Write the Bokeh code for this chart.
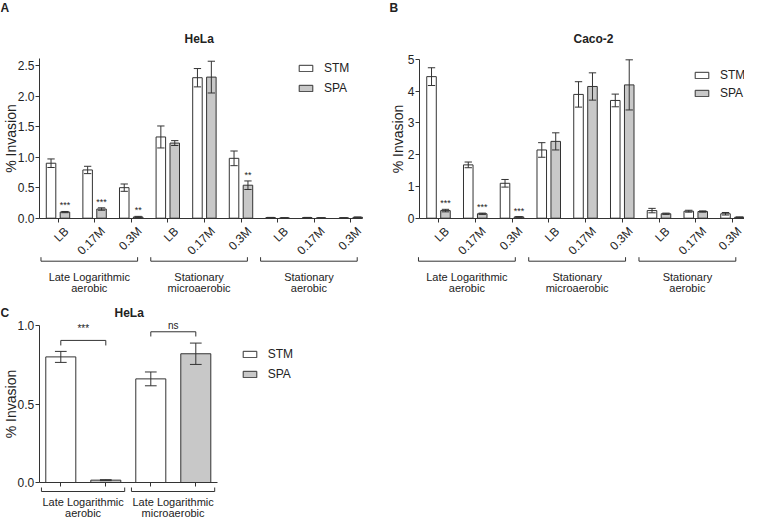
import math
from bokeh.plotting import figure
from bokeh.models import (FixedTicker, Legend, LegendItem, ColumnDataSource,
                          NumeralTickFormatter, LinearAxis)
from bokeh.layouts import column, row
from bokeh.embed import file_html
from bokeh.resources import INLINE
from bokeh.core.properties import value

FONT = "Liberation Sans"
TXT = "#222222"
LINE = "#333333"
SPA_FILL = "#c8c8c8"

# ---------------- data ----------------
media = ["LB", "0.17M", "0.3M"]
groups_ab = [["Late Logarithmic", "aerobic"],
             ["Stationary", "microaerobic"],
             ["Stationary", "aerobic"]]
strains = ["STM", "SPA"]

hela_stm = [0.90, 0.79, 0.50, 1.33, 2.30, 0.98, 0.010, 0.010, 0.005]
hela_stm_err = [0.07, 0.06, 0.06, 0.18, 0.15, 0.12, 0.003, 0.003, 0.002]
hela_spa = [0.10, 0.15, 0.02, 1.23, 2.31, 0.54, 0.005, 0.005, 0.015]
hela_spa_err = [0.01, 0.02, 0.01, 0.04, 0.26, 0.07, 0.002, 0.002, 0.005]
hela_sig = ["***", "***", "**", "", "", "**", "", "", ""]

caco_stm = [4.46, 1.68, 1.10, 2.15, 3.90, 3.71, 0.24, 0.22, 0.14]
caco_stm_err = [0.28, 0.09, 0.12, 0.23, 0.40, 0.20, 0.07, 0.03, 0.04]
caco_spa = [0.24, 0.14, 0.04, 2.42, 4.15, 4.20, 0.14, 0.21, 0.03]
caco_spa_err = [0.04, 0.02, 0.01, 0.27, 0.43, 0.79, 0.02, 0.02, 0.01]
caco_sig = ["***", "***", "***", "", "", "", "", "", ""]

c_groups = [["Late Logarithmic", "aerobic"],
            ["Late Logarithmic", "microaerobic"]]
c_stm = [0.80, 0.66]
c_stm_err = [0.035, 0.044]
c_spa = [0.015, 0.82]
c_spa_err = [0.003, 0.068]
c_sig = ["***", "ns"]


def style_axis(ax):
    ax.axis_line_color = LINE
    ax.major_tick_line_color = LINE
    ax.minor_tick_line_color = None
    ax.major_tick_in = 0
    ax.major_tick_out = 4
    ax.major_label_text_font = FONT
    ax.major_label_text_font_size = "12px"
    ax.major_label_text_color = TXT
    ax.axis_label_text_font = FONT
    ax.axis_label_text_font_size = "14px"
    ax.axis_label_text_font_style = "normal"
    ax.axis_label_text_color = TXT


class Panel:
    """Figure whose frame covers the whole canvas; axes are pinned with fixed_location."""

    def __init__(self, W, H, ox, sx, oy, sy):
        self.W, self.H, self.ox, self.sx, self.oy, self.sy = W, H, ox, sx, oy, sy
        self.p = figure(width=W, height=H,
                        x_range=(-ox / sx, (W - ox) / sx),
                        y_range=(-(H - oy) / sy, oy / sy),
                        output_backend="svg", toolbar_location=None, title=None,
                        min_border=0, background_fill_color="white",
                        border_fill_color="white")
        p = self.p
        p.grid.visible = False
        p.outline_line_color = None
        style_axis(p.xaxis[0])
        style_axis(p.yaxis[0])
        p.yaxis.major_label_standoff = 1
        p.yaxis.axis_label = "% Invasion"

    def x(self, px):
        return (px - self.ox) / self.sx

    def y(self, py):
        return (self.oy - py) / self.sy

    def dy(self, d):
        return d / self.sy

    def texts(self, xs, ys, ts, size="11px", style="normal", align="center",
              baseline="middle", y_offset=0):
        src = ColumnDataSource(dict(x=xs, y=ys, t=ts))
        self.p.text(x="x", y="y", text="t", source=src, text_font=value(FONT),
                    text_font_size=size, text_font_style=style, text_color=TXT,
                    text_align=align, text_baseline=baseline, y_offset=y_offset)

    def brackets(self, starts, ends, y_line, y_tip):
        xs = [[a, a, b, b] for a, b in zip(starts, ends)]
        ys = [[y_tip, y_line, y_line, y_tip] for _ in starts]
        self.p.multi_line(xs=xs, ys=ys, line_color=LINE, line_width=1)

    def errs(self, xs, tops, errs, cap):
        src = ColumnDataSource(dict(
            x=xs, lo=[t - e for t, e in zip(tops, errs)],
            hi=[t + e for t, e in zip(tops, errs)],
            x0=[v - cap for v in xs], x1=[v + cap for v in xs]))
        p = self.p
        p.segment(x0="x", y0="lo", x1="x", y1="hi", source=src, line_color=LINE, line_width=1)
        p.segment(x0="x0", y0="hi", x1="x1", y1="hi", source=src, line_color=LINE, line_width=1)
        p.segment(x0="x0", y0="lo", x1="x1", y1="lo", source=src, line_color=LINE, line_width=1)

    def legend(self, r1, r2, loc, spacing):
        leg = Legend(items=[LegendItem(label=strains[0], renderers=[r1]),
                            LegendItem(label=strains[1], renderers=[r2])],
                     location=loc, margin=0, padding=0, spacing=spacing,
                     glyph_width=17, glyph_height=8, label_height=8, label_standoff=10,
                     label_text_font=FONT, label_text_font_size="12px",
                     label_text_color=TXT, border_line_color=None,
                     background_fill_alpha=0)
        self.p.add_layout(leg)


def make_ab(letter, letter_px, title, title_px, stm, stm_err, spa, spa_err, sig,
            ox, sx, sy, ymax, yticks, yfmt, yaxis_px, xaxis_end, br_start, br_end,
            ylab_standoff, leg_loc, leg_spacing):
    P = Panel(372, 300, ox, sx, 217.7, sy)
    p = P.p
    xs = list(range(len(stm)))
    dx = 0.19
    stm_x = [v - dx for v in xs]
    spa_x = [v + dx for v in xs]
    r1 = p.vbar(x=stm_x, top=stm, width=0.26, fill_color="white", line_color=LINE, line_width=1)
    r2 = p.vbar(x=spa_x, top=spa, width=0.26, fill_color=SPA_FILL, line_color=LINE, line_width=1)
    P.errs(stm_x, stm, stm_err, 0.1)
    P.errs(spa_x, spa, spa_err, 0.1)
    P.texts(spa_x, [t + e for t, e in zip(spa, spa_err)], sig, size="9px",
            baseline="bottom", y_offset=-1)

    x_left = P.x(yaxis_px)
    # axis line and ticks
    p.xaxis.fixed_location = 0
    p.xaxis.bounds = (x_left, xaxis_end)
    p.xaxis.ticker = FixedTicker(ticks=xs)
    p.xaxis.major_label_text_color = None
    # tick labels (rotated), nudged so each label ends under its tick
    shift = 8.5 / sx
    lab_ticks = [v + shift for v in xs]
    lab_axis = LinearAxis(fixed_location=0, ticker=FixedTicker(ticks=lab_ticks),
                          major_label_overrides={t: media[i % 3] for i, t in enumerate(lab_ticks)},
                          major_label_orientation=math.pi / 4, major_label_standoff=7)
    style_axis(lab_axis)
    lab_axis.axis_line_color = None
    lab_axis.major_tick_line_color = None
    p.add_layout(lab_axis, "below")

    p.yaxis.fixed_location = x_left
    p.yaxis.bounds = (0, ymax)
    p.yaxis.ticker = FixedTicker(ticks=yticks)
    p.yaxis.formatter = NumeralTickFormatter(format=yfmt)
    p.yaxis.axis_label_standoff = ylab_standoff

    starts = [3 * g + br_start for g in range(len(groups_ab))]
    ends = [3 * g + br_end for g in range(len(groups_ab))]
    P.brackets(starts, ends, P.dy(-43), P.dy(-39))
    mids = [(a + b) / 2 for a, b in zip(starts, ends)]
    P.texts(mids, [P.dy(-58.5)] * len(mids), [g[0] for g in groups_ab])
    P.texts(mids, [P.dy(-70)] * len(mids), [g[1] for g in groups_ab])

    P.texts([P.x(title_px[0])], [P.y(title_px[1])], [title], size="12px", style="bold")
    P.texts([P.x(letter_px[0])], [P.y(letter_px[1])], [letter], size="12px", style="bold",
            align="left")
    P.legend(r1, r2, leg_loc, leg_spacing)
    return p


pA = make_ab("A", (0, 7), "HeLa", (198.7, 38),
             hela_stm, hela_stm_err, hela_spa, hela_spa_err, hela_sig,
             57.5, 36.6, 61.08, 2.61, [0, 0.5, 1.0, 1.5, 2.0, 2.5], "0.0",
             39, 8.32, -0.465, 2.175, -4, (297, 204.7), 6)
pB = make_ab("B", (17, 7), "Caco-2", (221, 38),
             caco_stm, caco_stm_err, caco_spa, caco_spa_err, caco_sig,
             66, 36.75, 31.74, 5.0, [0, 1, 2, 3, 4, 5], "0",
             47, 8.32, -0.545, 2.09, -1, (321, 200.3), 4)

# ---------------- panel C ----------------
PC = Panel(372, 219, 60.3, 45, 182, 157)
pC = PC.p
cx_stm = [2 * g for g in range(len(c_stm))]
cx_spa = [2 * g + 1 for g in range(len(c_spa))]
rc1 = pC.vbar(x=cx_stm, top=c_stm, width=0.667, fill_color="white", line_color=LINE, line_width=1)
rc2 = pC.vbar(x=cx_spa, top=c_spa, width=0.667, fill_color=SPA_FILL, line_color=LINE, line_width=1)
PC.errs(cx_stm, c_stm, c_stm_err, 0.13)
PC.errs(cx_spa, c_spa, c_spa_err, 0.13)
cx_left = PC.x(38.7)
pC.xaxis.fixed_location = 0
pC.xaxis.bounds = (cx_left, 3.48)
pC.xaxis.ticker = FixedTicker(ticks=cx_stm + cx_spa)
pC.xaxis.major_label_text_color = None
pC.yaxis.fixed_location = cx_left
pC.yaxis.bounds = (0, 1.0)
pC.yaxis.ticker = FixedTicker(ticks=[0, 0.5, 1.0])
pC.yaxis.formatter = NumeralTickFormatter(format="0.0")
pC.yaxis.axis_label_standoff = -4

c_starts = [2 * g - 0.43 for g in range(len(c_groups))]
c_ends = [2 * g + 1.42 for g in range(len(c_groups))]
PC.brackets(c_starts, c_ends, PC.dy(-9), PC.dy(-5))
c_mids = [(a + b) / 2 for a, b in zip(c_starts, c_ends)]
PC.texts(c_mids, [PC.dy(-19.5)] * 2, [g[0] for g in c_groups])
PC.texts(c_mids, [PC.dy(-30.5)] * 2, [g[1] for g in c_groups])

# significance brackets between STM and SPA of each condition
sig_line = [0.905, 0.96]
sig_tip = [0.873, 0.93]
sig_text_y = [0.98, 1.0]
for g in range(len(c_sig)):
    PC.brackets([cx_stm[g]], [cx_spa[g]], sig_line[g], sig_tip[g])
PC.texts([(a + b) / 2 for a, b in zip(cx_stm, cx_spa)], sig_text_y, c_sig, size="10px")

PC.texts([PC.x(128.7)], [PC.y(12)], ["HeLa"], size="12px", style="bold")
PC.texts([PC.x(0)], [PC.y(12)], ["C"], size="12px", style="bold", align="left")
PC.legend(rc1, rc2, (240.7, 138.3), 6)

layout = column(row(pA, pB), pC)
open("out.html", "w").write(file_html(layout, INLINE))
